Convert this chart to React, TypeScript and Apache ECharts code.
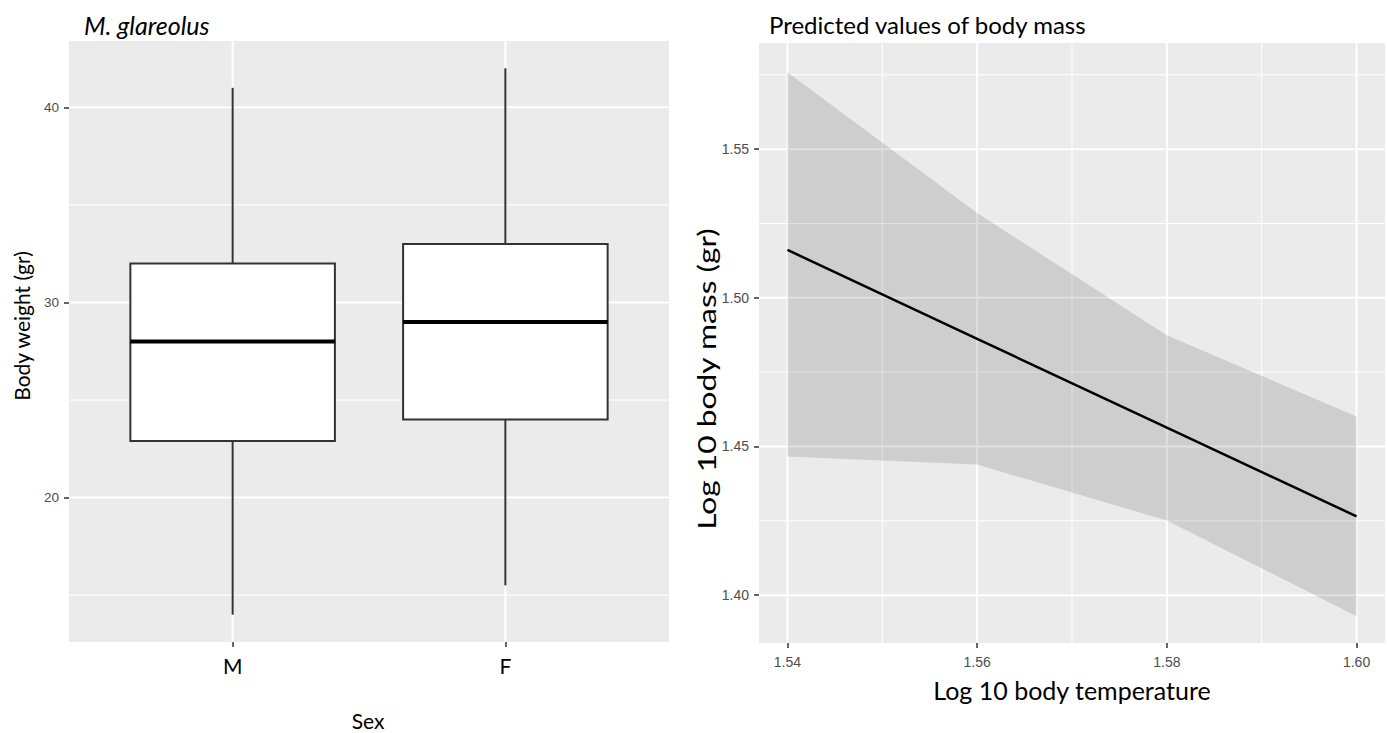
import React, { useEffect, useRef } from "react";
import * as echarts from "echarts";

// ---------- Left panel data (M. glareolus body weight by sex) ----------
const sexCategories = ["M", "F"];
const sexPositions = [1, 2];
// [lower whisker, Q1, median, Q3, upper whisker]
const boxStats = [
  [14, 22.9, 28, 32, 41],
  [15.5, 24, 29, 33, 42],
];
const weightTicks = [20, 30, 40];
const weightMinor = [15, 25, 35];

// ---------- Right panel data (predicted body mass) ----------
const tempValues = [1.54, 1.56, 1.58, 1.6];
const massPredicted = [1.5161, 1.4862, 1.4563, 1.4265];
const massLower = [1.4466, 1.4439, 1.4251, 1.3929];
const massUpper = [1.5759, 1.5285, 1.4874, 1.4601];
const tempTicks = [1.54, 1.56, 1.58, 1.6];
const tempMinor = [1.55, 1.57, 1.59];
const massTicks = [1.4, 1.45, 1.5, 1.55];
const massMinor = [1.425, 1.475, 1.525, 1.575];

const PANEL_BG = "#ebebeb";
const TICK_COLOR = "#333333";
const TICK_LABEL_COLOR = "#4d4d4d";
const TITLE_FONT = "Lato";
const TICK_FONT = "Liberation Sans";

function gridLineRender(orient: "h" | "v", width: number) {
  return (params: any, api: any) => {
    const cs = params.coordSys;
    const p = api.coord([api.value(0), api.value(1)]);
    if (orient === "h") {
      return {
        type: "line",
        shape: { x1: cs.x, y1: p[1], x2: cs.x + cs.width, y2: p[1] },
        style: { stroke: "#ffffff", lineWidth: width },
        silent: true,
      };
    }
    return {
      type: "line",
      shape: { x1: p[0], y1: cs.y, x2: p[0], y2: cs.y + cs.height },
      style: { stroke: "#ffffff", lineWidth: width },
      silent: true,
    };
  };
}

function boxRender(params: any, api: any) {
  const x = api.value(0);
  const lo = api.coord([x, api.value(1)]);
  const q1 = api.coord([x, api.value(2)]);
  const med = api.coord([x, api.value(3)]);
  const q3 = api.coord([x, api.value(4)]);
  const hi = api.coord([x, api.value(5)]);
  const halfW = api.size([0.75, 0])[0] / 2;
  return {
    type: "group",
    children: [
      {
        type: "line",
        shape: { x1: hi[0], y1: hi[1], x2: q3[0], y2: q3[1] },
        style: { stroke: TICK_COLOR, lineWidth: 2 },
      },
      {
        type: "line",
        shape: { x1: q1[0], y1: q1[1], x2: lo[0], y2: lo[1] },
        style: { stroke: TICK_COLOR, lineWidth: 2 },
      },
      {
        type: "rect",
        shape: { x: q3[0] - halfW, y: q3[1], width: halfW * 2, height: q1[1] - q3[1] },
        style: { fill: "#ffffff", stroke: TICK_COLOR, lineWidth: 2 },
      },
      {
        type: "line",
        shape: { x1: med[0] - halfW, y1: med[1], x2: med[0] + halfW, y2: med[1] },
        style: { stroke: "#000000", lineWidth: 4 },
      },
    ],
  };
}

function ribbonRender(params: any, api: any) {
  if (params.dataIndex !== 0) return null;
  const upper = tempValues.map((x, i) => api.coord([x, massUpper[i]]));
  const lower = tempValues.map((x, i) => api.coord([x, massLower[i]])).reverse();
  return {
    type: "polygon",
    shape: { points: upper.concat(lower) },
    style: { fill: "rgba(0,0,0,0.12)" },
    silent: true,
  };
}

export default function App() {
  const ref = useRef<HTMLDivElement>(null);

  useEffect(() => {
    if (!ref.current) return;
    const chart = echarts.init(ref.current, undefined, { renderer: "svg" });

    const tickLine = { show: true, length: 5, lineStyle: { color: TICK_COLOR, width: 1.5 } };
    const axisTitle = (
      text: string,
      x: number,
      y: number,
      size: number,
      vertical: boolean,
      stretch = 1
    ) => ({
      type: "text",
      x,
      y,
      rotation: vertical ? Math.PI / 2 : 0,
      scaleX: stretch,
      silent: true,
      style: {
        text,
        fontFamily: TITLE_FONT,
        fontSize: size,
        fill: "#000",
        align: "center",
        verticalAlign: "middle",
      },
    });

    const option: any = {
      animation: false,
      backgroundColor: "#ffffff",
      title: [
        {
          text: "M. glareolus",
          left: 79,
          top: 7,
          textStyle: { fontFamily: TITLE_FONT, fontStyle: "italic", fontWeight: "normal", fontSize: 25, color: "#000" },
        },
        {
          text: "Predicted values of body mass",
          left: 764,
          top: 7,
          textStyle: { fontFamily: TITLE_FONT, fontWeight: "normal", fontSize: 24, color: "#000" },
        },
      ],
      graphic: [
        axisTitle("Sex", 368, 720, 21, false),
        axisTitle("Body weight (gr)", 21, 326, 21, true),
        axisTitle("Log 10 body temperature", 1072, 690, 25, false),
        axisTitle("Log 10 body mass (gr)", 706, 379, 25, true, 1.27),
      ],
      grid: [
        { left: 69, top: 41, width: 600, height: 601, show: true, backgroundColor: PANEL_BG, borderWidth: 0 },
        { left: 759, top: 43, width: 626, height: 600, show: true, backgroundColor: PANEL_BG, borderWidth: 0 },
      ],
      xAxis: [
        {
          type: "value",
          gridIndex: 0,
          min: 0.4,
          max: 2.6,
          axisLine: { show: false },
          splitLine: { show: false },
          axisTick: { ...tickLine, customValues: sexPositions },
          axisLabel: {
            customValues: sexPositions,
            formatter: (v: number) => sexCategories[sexPositions.indexOf(Math.round(v))] ?? "",
            fontFamily: TITLE_FONT,
            fontSize: 21,
            color: "#000",
            margin: 13,
          },
        },
        {
          type: "value",
          gridIndex: 1,
          min: 1.537,
          max: 1.603,
          axisLine: { show: false },
          splitLine: { show: false },
          axisTick: { ...tickLine, customValues: tempTicks },
          axisLabel: {
            customValues: tempTicks,
            formatter: (v: number) => v.toFixed(2),
            fontFamily: TICK_FONT,
            fontSize: 14,
            color: TICK_LABEL_COLOR,
            margin: 12,
          },
        },
      ],
      yAxis: [
        {
          type: "value",
          gridIndex: 0,
          min: 12.6,
          max: 43.4,
          axisLine: { show: false },
          splitLine: { show: false },
          axisTick: { ...tickLine, customValues: weightTicks },
          axisLabel: {
            customValues: weightTicks,
            fontFamily: TICK_FONT,
            fontSize: 13.5,
            color: TICK_LABEL_COLOR,
            margin: 10,
          },
        },
        {
          type: "value",
          gridIndex: 1,
          min: 1.3839,
          max: 1.5857,
          axisLine: { show: false },
          splitLine: { show: false },
          axisTick: { ...tickLine, customValues: massTicks },
          axisLabel: {
            customValues: massTicks,
            formatter: (v: number) => v.toFixed(2),
            fontFamily: TICK_FONT,
            fontSize: 14,
            color: TICK_LABEL_COLOR,
            margin: 10,
          },
        },
      ],
      series: [
        // left panel grid lines
        { type: "custom", xAxisIndex: 0, yAxisIndex: 0, z: 1, silent: true, renderItem: gridLineRender("h", 1), data: weightMinor.map((v) => [1, v]) },
        { type: "custom", xAxisIndex: 0, yAxisIndex: 0, z: 1, silent: true, renderItem: gridLineRender("h", 2), data: weightTicks.map((v) => [1, v]) },
        { type: "custom", xAxisIndex: 0, yAxisIndex: 0, z: 1, silent: true, renderItem: gridLineRender("v", 2), data: sexPositions.map((v) => [v, 20]) },
        // boxes
        {
          type: "custom",
          xAxisIndex: 0,
          yAxisIndex: 0,
          z: 3,
          renderItem: boxRender,
          data: sexPositions.map((p, i) => [p, ...boxStats[i]]),
        },
        // right panel grid lines
        { type: "custom", xAxisIndex: 1, yAxisIndex: 1, z: 1, silent: true, renderItem: gridLineRender("h", 1), data: massMinor.map((v) => [1.57, v]) },
        { type: "custom", xAxisIndex: 1, yAxisIndex: 1, z: 1, silent: true, renderItem: gridLineRender("h", 2), data: massTicks.map((v) => [1.57, v]) },
        { type: "custom", xAxisIndex: 1, yAxisIndex: 1, z: 1, silent: true, renderItem: gridLineRender("v", 1), data: tempMinor.map((v) => [v, 1.5]) },
        { type: "custom", xAxisIndex: 1, yAxisIndex: 1, z: 1, silent: true, renderItem: gridLineRender("v", 2), data: tempTicks.map((v) => [v, 1.5]) },
        // confidence ribbon
        {
          type: "custom",
          xAxisIndex: 1,
          yAxisIndex: 1,
          z: 2,
          silent: true,
          renderItem: ribbonRender,
          data: [[tempValues[0], massLower[0]]],
        },
        // predicted line
        {
          type: "line",
          xAxisIndex: 1,
          yAxisIndex: 1,
          z: 3,
          symbol: "none",
          silent: true,
          lineStyle: { color: "#000000", width: 2.5 },
          data: tempValues.map((x, i) => [x, massPredicted[i]]),
        },
      ],
    };

    chart.setOption(option);
    return () => chart.dispose();
  }, []);

  return (
    <div
      ref={ref}
      style={{ position: "absolute", left: 0, top: 0, width: 1387, height: 733 }}
    />
  );
}
